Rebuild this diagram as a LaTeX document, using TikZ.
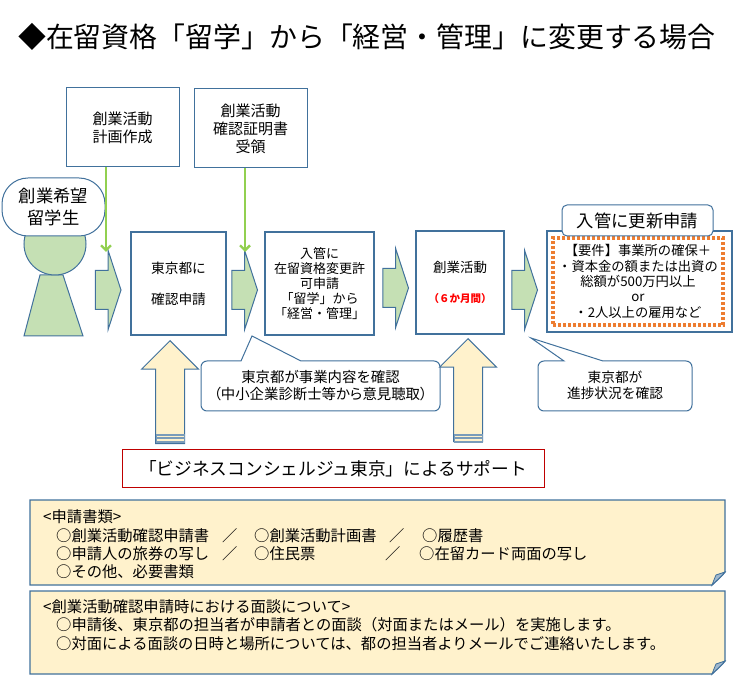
\documentclass[tikz,border=0pt]{standalone}
\usepackage{fontspec}
\setmainfont{Noto Sans CJK JP}
\newfontfamily\narrowjp[RawFeature=+palt]{Noto Sans CJK JP}
\usetikzlibrary{arrows.meta, shapes.arrows, calc}
\definecolor{lineblue}{HTML}{41719C}
\definecolor{leaf}{HTML}{C5E0B4}
\definecolor{cream}{HTML}{FFF2CC}
\definecolor{sprout}{HTML}{92D050}
\definecolor{dotorange}{HTML}{ED7D31}
\newcommand{\fs}[1]{\fontsize{#1}{#1}\selectfont}
\tikzset{
  thinbox/.style={draw=lineblue, line width=1pt, fill=white, inner sep=0pt, align=center},
  thickbox/.style={draw=lineblue, line width=1.8pt, fill=white, inner sep=0pt, align=center},
  stepflow/.style={single arrow, draw=lineblue, line width=1pt, fill=leaf, inner xsep=0pt, inner ysep=19pt,
    anchor=tip, minimum width=78pt, minimum height=25.5pt,
    single arrow head extend=20pt, single arrow tip angle=144},
  support/.style={single arrow, draw=lineblue, line width=1pt, fill=cream, inner xsep=14pt, inner ysep=0pt,
    anchor=tip, shape border rotate=90, minimum width=56pt, minimum height=103pt,
    single arrow head extend=14pt, single arrow tip angle=90},
  feed/.style={draw=sprout, line width=2.4pt, -{Straight Barb[length=5pt,width=10pt]}},
  memo/.style={draw=lineblue, line width=1.4pt, fill=cream},
  memotext/.style={anchor=west, inner sep=0pt, font=\fs{15.3}},
  bubble/.style={draw=lineblue, line width=1pt, fill=white}
}
\begin{document}
\begin{tikzpicture}[x=1pt,y=-1pt]
    \useasboundingbox (0,0) rectangle (750,700);
    \node[anchor=west, inner sep=0pt, font=\fs{27.9}] (title) at (18,37) {◆在留資格「留学」から「経営・管理」に変更する場合};

    % person
    \draw[lineblue, line width=1pt, fill=leaf] (40,275) -- (24,336) -- (83,336) -- (63,275) -- cycle;
    \draw[lineblue, line width=1pt, fill=leaf] (55,244) circle (31);
    \node[thinbox, rounded corners=26pt, minimum width=103pt, minimum height=58pt, font=\fs{17.3}] (student) at (53.5,207) {創業希望\\[4pt]留学生};

    % upper boxes
    \node[thinbox, minimum width=113pt, minimum height=79pt, font=\fs{15}] (plan) at (122.5,127.5) {創業活動\\[3pt]計画作成};
    \node[thinbox, minimum width=113pt, minimum height=79pt, font=\fs{15}] (cert) at (250.5,128.5) {創業活動\\[3pt]確認証明書\\[3pt]受領};

    % flow boxes
    \node[thickbox, minimum width=95pt, minimum height=103pt, font=\fs{13.7}] (apply) at (178.5,283.5) {東京都に\\[2pt]\\[2pt]確認申請};
    \node[thickbox, minimum width=109pt, minimum height=103pt, font=\fs{13}] (change) at (319.5,283.5) {入管に\\[2pt]在留資格変更許\\[2pt]可申請\\[2pt]「留学」から\\[2pt]「経営・管理」};
    \node[thickbox, minimum width=88pt, minimum height=103pt, font=\fs{13.5}] (work) at (460,282.5) {創業活動\\[2pt]\\[1pt]{\color{red}\bfseries\fs{10.5}（６か月間）}};
    \node[thickbox, minimum width=185pt, minimum height=101pt] (renew) at (639.5,281.5) {};
    \node[draw=dotorange, line width=3.2pt, dash pattern=on 3pt off 2pt, inner sep=0pt, minimum width=170pt, minimum height=87pt, font=\fs{13.3}, align=center] (needs) at (638,281.5) {【要件】事業所の確保＋\\[2pt]・資本金の額または出資の\\[2pt]総額が500万円以上\\[2pt]or\\[2pt]・2人以上の雇用など};
    \node[thinbox, rounded corners=5pt, minimum width=151pt, minimum height=31pt, font=\fs{17.3}] (renewlabel) at (637.5,220.5) {入管に更新申請};

    % block arrows
    \node[stepflow] (stepa) at (121.5,290) {};
    \node[stepflow] (stepb) at (258,290) {};
    \node[stepflow] (stepc) at (409,288) {};
    \node[stepflow] (stepd) at (538,290) {};

    % green feeds
    \coordinate (plantip) at (106,252);
    \coordinate (certtip) at (245,252);
    \draw[feed] (plan.south -| plantip) -- (plantip);
    \draw[feed] (cert.south -| certtip) -- (certtip);

    % speech bubbles
    \draw[bubble] (207,361) -- (241,361) -- (252,336) -- (301,361) -- (434,361)
      arc (-90:0:6) -- (440,405) arc (0:90:6) -- (207,411) arc (90:180:6) -- (201,367) arc (180:270:6) -- cycle;
    \node[inner sep=0pt, align=center, font=\fs{14.4}] (checka) at (320.5,385.5) {東京都が事業内容を確認\\[3pt]{\narrowjp （中小企業診断士等から意見聴取）}};
    \draw[bubble] (544,361) -- (564,361) -- (531,338) -- (603,361) -- (686,361)
      arc (-90:0:6) -- (692,405) arc (0:90:6) -- (544,411) arc (90:180:6) -- (538,367) arc (180:270:6) -- cycle;
    \node[inner sep=0pt, align=center, font=\fs{13.7}] (checkb) at (615,385.5) {東京都が\\[2pt]進捗状況を確認};

    % support arrows
    \node[support] (supa) at (170,340) {};
    \node[support] (supb) at (468,338) {};
    \foreach \sx in {170,468} {
      \fill[lineblue!70] (\sx-14.5,434) rectangle (\sx+14.5,443);
      \fill[cream] (\sx-13.5,436) rectangle (\sx+13.5,437.5);
      \fill[cream] (\sx-13.5,439.5) rectangle (\sx+13.5,441);
    }
    \node[draw=red!75!black, line width=1pt, inner sep=0pt, minimum width=422pt, minimum height=38pt, font=\fs{17.7}] (bcon) at (333,469) {「ビジネスコンシェルジュ東京」によるサポート};

    % notes
    \draw[memo] (30,500) -- (725,500) -- (725,572) .. controls (720,578) and (716,581) .. (712,585) -- (30,585) -- cycle;
    \draw[lineblue, line width=0.8pt, fill=lineblue!50] (725,572) .. controls (720,578) and (716,581) .. (712,585) .. controls (714,580) and (715,577) .. (716,575) -- cycle;
    \node[memotext] (doca) at (43,517) {<申請書類>};
    \node[memotext] (docb) at (56,536) {○創業活動確認申請書};
    \node[memotext] (docc) at (222,536) {／};
    \node[memotext] (docd) at (254,536) {○創業活動計画書};
    \node[memotext] (doce) at (389,536) {／};
    \node[memotext] (docf) at (422,536) {○履歴書};
    \node[memotext] (docg) at (56,554) {○申請人の旅券の写し};
    \node[memotext] (doch) at (222,554) {／};
    \node[memotext] (doci) at (254,554) {○住民票};
    \node[memotext] (docj) at (385,554) {／};
    \node[memotext] (dock) at (419,554) {○在留カード両面の写し};
    \node[memotext] (docl) at (56,572) {○その他、必要書類};

    \draw[memo] (30,591) -- (725,591) -- (725,661) .. controls (720,667) and (716,670) .. (712,674) -- (30,674) -- cycle;
    \draw[lineblue, line width=0.8pt, fill=lineblue!50] (725,661) .. controls (720,667) and (716,670) .. (712,674) .. controls (714,669) and (715,666) .. (716,664) -- cycle;
    \node[memotext] (meeta) at (43,607) {<創業活動確認申請時における面談について>};
    \node[memotext] (meetb) at (56,625) {○申請後、東京都の担当者が申請者との面談（対面またはメール）を実施します。};
    \node[memotext] (meetc) at (56,644) {○対面による面談の日時と場所については、都の担当者よりメールでご連絡いたします。};
\end{tikzpicture}
\end{document}
